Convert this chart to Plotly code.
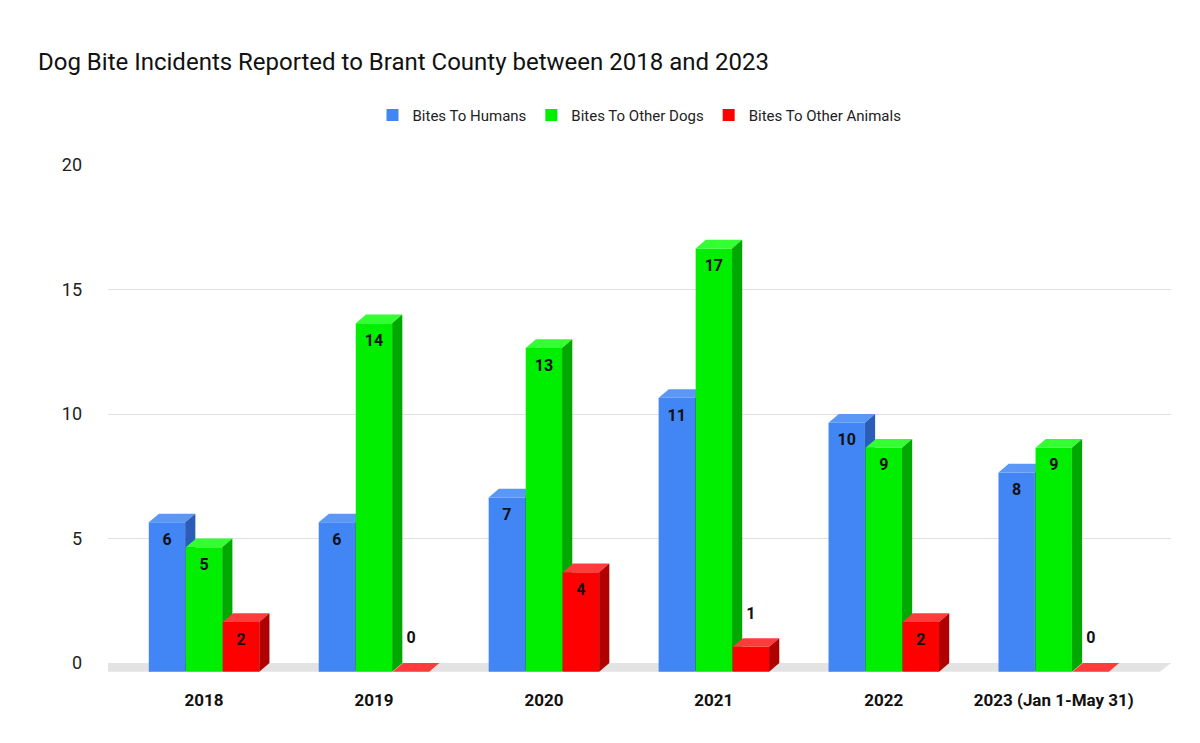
import plotly.graph_objects as go

# data
categories = ["2018", "2019", "2020", "2021", "2022", "2023 (Jan 1-May 31)"]
bites_humans = [6, 6, 7, 11, 10, 8]
bites_dogs = [5, 14, 13, 17, 9, 9]
bites_animals = [2, 0, 4, 1, 2, 0]

series = [
    ("Bites To Humans", bites_humans, "#4285f4", "#5a97f7", "#2b5cb8"),
    ("Bites To Other Dogs", bites_dogs, "#00ee00", "#33ff33", "#00a800"),
    ("Bites To Other Animals", bites_animals, "#ff0000", "#ff3b3b", "#b00000"),
]

W = 0.214   # bar width (x units)
STEP = 0.218
DX = 0.06   # depth shift in x
DY = 0.35   # depth shift in y

fig = go.Figure()

# floor
fig.add_trace(go.Scatter(
    x=[-0.63, -0.565, 5.69, 5.625, -0.63], y=[-DY, 0, 0, -DY, -DY],
    fill="toself", fillcolor="#e3e3e3", line=dict(width=0),
    mode="lines", showlegend=False, hoverinfo="skip"))

lab_x, lab_y, lab_t = [], [], []
for i in range(len(categories)):
    for k, (name, vals, front, top, side) in enumerate(series):
        v = vals[i]
        c = i + (k - 1) * STEP
        x0, x1 = c - W / 2, c + W / 2
        b = -DY
        t = v - DY
        polys = [
            ([x0, x1, x1, x0, x0], [b, b, t, t, b], front),
            ([x0, x1, x1 + DX, x0 + DX, x0], [t, t, v, v, t], top),
            ([x1, x1 + DX, x1 + DX, x1, x1], [b, 0, v, t, b], side),
        ]
        for px, py, col in polys:
            fig.add_trace(go.Scatter(
                x=px, y=py, fill="toself", fillcolor=col,
                line=dict(width=0), mode="lines",
                showlegend=False, hoverinfo="skip"))
        lab_x.append(c)
        lab_y.append(v - 1.1 if v >= 2 else v + 0.95)
        lab_t.append(f"<b>{v}</b>")

fig.add_trace(go.Scatter(
    x=lab_x, y=lab_y, text=lab_t, mode="text",
    textfont=dict(size=16, color="#111111", family="Roboto"),
    showlegend=False, hoverinfo="skip"))

# legend entries
for name, vals, front, top, side in series:
    fig.add_trace(go.Scatter(
        x=[None], y=[None], mode="markers", name=name,
        marker=dict(symbol="square", size=12, color=front)))

fig.update_layout(
    width=1200, height=743,
    paper_bgcolor="white", plot_bgcolor="white",
    margin=dict(l=100, r=37, t=157, b=73, autoexpand=False),
    title=dict(text="Dog Bite Incidents Reported to Brant County between 2018 and 2023",
               x=0.025, xanchor="left", y=0.928, yanchor="middle",
               font=dict(size=24, color="#111111", family="Roboto")),
    legend=dict(orientation="h", x=0.5, xanchor="center", y=1.097, yanchor="middle",
                font=dict(size=15, color="#222222", family="Roboto"),
                itemwidth=30, traceorder="normal"),
    font=dict(family="Roboto"),
)
fig.update_xaxes(
    range=[-0.565, 5.69], tickvals=list(range(len(categories))),
    ticktext=[f"<b>{c}</b>" for c in categories],
    tickfont=dict(size=17, color="#111111"),
    showgrid=False, zeroline=False, showline=False, ticks="", ticklabelstandoff=10)
fig.update_yaxes(
    range=[-0.6, 20], tickvals=[0, 5, 10, 15, 20],
    tickfont=dict(size=18, color="#222222"),
    gridcolor="#e0e0e0", zeroline=False, showline=False, ticklabelstandoff=25)

fig.write_html("out.html")
